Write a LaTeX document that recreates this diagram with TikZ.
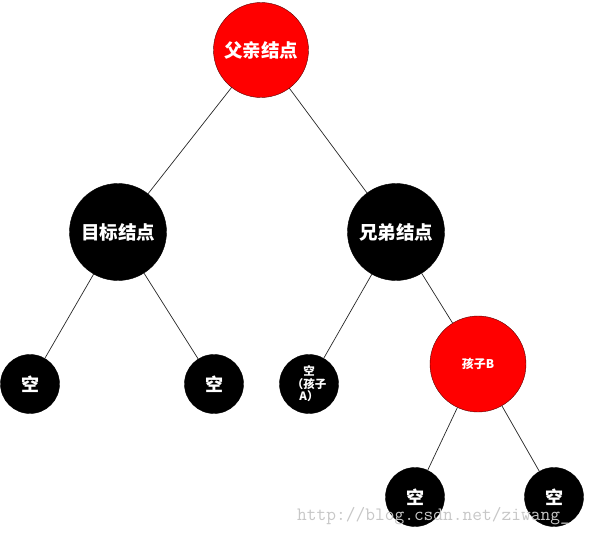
\documentclass[tikz,border=0pt]{standalone}
\usepackage{fontspec}
\usepackage{tikz}
\usepackage{tkz-graph}
\usepackage{xcolor}
\newfontfamily\cjk{Noto Sans CJK SC}
\definecolor{nodered}{RGB}{255,0,0}
\definecolor{rimred}{RGB}{90,0,0}

\begin{document}
\begin{tikzpicture}[x=1pt,y=-1pt]
  \useasboundingbox (0,0) rectangle (589,533);
  \tikzstyle{VertexStyle}=[shape=circle,draw=rimred,fill=nodered,text=white,
    inner sep=0pt,minimum size=95pt,font=\cjk\bfseries\fontsize{18.5}{20}\selectfont]
  \Vertex[x=261,y=50,L={父亲结点}]{f}
  \tikzstyle{VertexStyle}=[shape=circle,draw=black,fill=black,text=white,
    inner sep=0pt,minimum size=97pt,font=\cjk\bfseries\fontsize{18.5}{20}\selectfont]
  \Vertex[x=118,y=232,L={目标结点}]{t}
  \Vertex[x=396,y=232,L={兄弟结点}]{s}
  \tikzstyle{VertexStyle}=[shape=circle,draw=black,fill=black,text=white,
    inner sep=0pt,minimum size=59pt,font=\cjk\bfseries\fontsize{18}{20}\selectfont]
  \Vertex[x=30,y=384,L={空}]{k1}
  \Vertex[x=214,y=384,L={空}]{k2}
  \Vertex[x=415,y=497,L={空}]{k3}
  \Vertex[x=554,y=497,L={空}]{k4}
  \tikzstyle{VertexStyle}=[shape=circle,draw=black,fill=black,text=white,align=center,
    inner sep=0pt,minimum size=59pt,font=\cjk\bfseries\fontsize{11.5}{12.5}\selectfont]
  \Vertex[x=309,y=384,L={空\\（孩子\\A）}]{a}
  \tikzstyle{VertexStyle}=[shape=circle,draw=rimred,fill=nodered,text=white,
    inner sep=0pt,minimum size=96pt,font=\cjk\bfseries\fontsize{12}{14}\selectfont]
  \Vertex[x=478,y=364,L={孩子B}]{b}
  \tikzstyle{EdgeStyle}=[draw=black!85,line width=0.7pt]
  \Edge(f)(t)
  \Edge(f)(s)
  \Edge(t)(k1)
  \Edge(t)(k2)
  \Edge(s)(a)
  \Edge(s)(b)
  \Edge(b)(k3)
  \Edge(b)(k4)
  \node[anchor=base west,text=black!22,font=\ttfamily\fontsize{18.9}{20}\selectfont,inner sep=0pt]
    (wm) at (297,520) {http://blog.csdn.net/ziwang\_};
\end{tikzpicture}
\end{document}
